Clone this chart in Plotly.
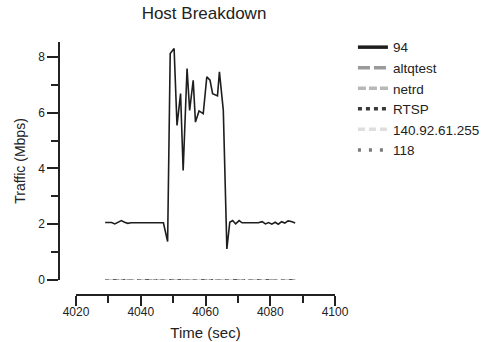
import plotly.graph_objects as go

# ---- data ----
t94 = [4029, 4030, 4031, 4032, 4033, 4034, 4035, 4036, 4037, 4038, 4039, 4040,
       4041, 4042, 4043, 4044, 4045, 4046, 4047, 4048.3, 4049.1, 4050.3, 4051.2,
       4052.3, 4053.1, 4054.3, 4055.1, 4056.2, 4056.9, 4058.0, 4059.3, 4060.4,
       4061.4, 4062.2, 4063.7, 4064.3, 4065.5, 4066.6, 4067.5, 4068.4, 4069.3,
       4070.4, 4071.3, 4072.3, 4073.3, 4074.3, 4075.3, 4076.3, 4077.5, 4078.5,
       4079.5, 4080.5, 4081.5, 4082.5, 4083.5, 4084.5, 4085.5, 4086.5, 4087.7]
v94 = [2.06, 2.06, 2.06, 2.01, 2.06, 2.13, 2.07, 2.03, 2.05, 2.05, 2.05, 2.05,
       2.05, 2.05, 2.05, 2.05, 2.05, 2.05, 2.05, 1.38, 8.12, 8.30, 5.54,
       6.68, 3.93, 7.58, 6.08, 7.16, 5.66, 6.06, 5.96, 7.28,
       7.16, 6.68, 6.60, 7.46, 6.08, 1.11, 2.07, 2.13, 2.01,
       2.13, 2.05, 2.05, 2.05, 2.05, 2.05, 2.05, 2.09, 2.01,
       2.06, 2.00, 2.07, 2.00, 2.09, 2.04, 2.12, 2.10, 2.04]

t_low = list(range(4029, 4089))
v_altqtest = [0.0] * 60
v_netrd = [0.0] * 21 + [0.03, 0.0, 0.02] + [0.0] * 36
v_rtsp = [0.01] * 60
v_bcast = [0.0] * 60
v_118 = [0.0] * 23 + [0.04] + [0.0] * 36

names = ["94", "altqtest", "netrd", "RTSP", "140.92.61.255", "118"]
colors = ["#1e1e1e", "#9a9a9a", "#b8b8b8", "#3a3a3a", "#dedede", "#7a7a7a"]
dashes = ["solid", "12px,4px", "8px,3px", "4px,4px", "7px,4px", "3px,8px"]

fig = go.Figure()
series = [(t94, v94), (t_low, v_altqtest), (t_low, v_netrd), (t_low, v_rtsp),
          (t_low, v_bcast), (t_low, v_118)]
for i, (tx, vy) in enumerate(series):
    fig.add_trace(go.Scatter(x=tx, y=vy, mode="lines", name=names[i],
                             line=dict(color=colors[i], width=1.6 if i == 0 else 1,
                                       dash=dashes[i] if i else "solid"),
                             showlegend=False))
# legend entries with thicker swatches
for i in range(len(names)):
    fig.add_trace(go.Scatter(x=[None], y=[None], mode="lines", name=names[i],
                             line=dict(color=colors[i], width=3.5, dash=dashes[i])))

axcol = "#222222"
fig.update_layout(
    width=483, height=342,
    margin=dict(l=59, r=148, t=42, b=47, autoexpand=False),
    plot_bgcolor="white", paper_bgcolor="white",
    font=dict(family="Liberation Sans, Arial, sans-serif", color=axcol, size=12),
    title=dict(text="Host Breakdown", x=204 / 483, xanchor="center", xref="container",
               y=1 - 13 / 342, yanchor="middle", yref="container",
               font=dict(size=17, color=axcol)),
    showlegend=True,
    legend=dict(x=1.065, y=1.04, xanchor="left", yanchor="top",
                font=dict(size=13.5, color=axcol), bgcolor="rgba(0,0,0,0)",
                borderwidth=0),
    xaxis=dict(range=[4020, 4100], domain=[(76 - 59) / 276, 1],
               anchor="free", position=0, automargin=False,
               showline=True, linecolor=axcol, linewidth=1.5,
               showgrid=False, zeroline=False,
               tickmode="array", tickvals=[4020, 4040, 4060, 4080, 4100],
               ticks="outside", ticklen=10, tickwidth=1.5, tickcolor=axcol,
               ticklabelstandoff=-4,
               minor=dict(tickvals=[4030, 4050, 4070, 4090], ticks="outside",
                          ticklen=7, tickwidth=1.5, tickcolor=axcol, showgrid=False),
               title=dict(text="Time (sec)", font=dict(size=15), standoff=8)),
    yaxis=dict(range=[0, 238 / 27.9], domain=[15 / 253, 1],
               anchor="free", position=0, automargin=False,
               showline=True, linecolor=axcol, linewidth=1.5,
               showgrid=False, zeroline=False,
               tickmode="array", tickvals=[0, 2, 4, 6, 8],
               ticks="outside", ticklen=11, tickwidth=1.5, tickcolor=axcol,
               minor=dict(tickvals=[1, 3, 5, 7], ticks="outside",
                          ticklen=7, tickwidth=1.5, tickcolor=axcol, showgrid=False),
               title=dict(text="Traffic (Mbps)", font=dict(size=14), standoff=8)),
)

fig.write_html("out.html")
